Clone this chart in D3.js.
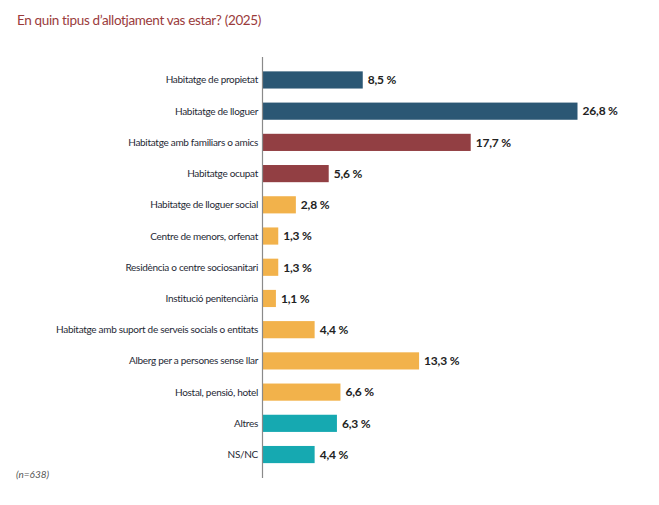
<!DOCTYPE html>
<html>
<head>
<meta charset="utf-8">
<script src="https://d3js.org/d3.v7.min.js"></script>
<style>
  body { margin: 0; background: #fff; font-family: Lato, "Open Sans", sans-serif; }
  .title { font-size: 13.5px; fill: #9a3b3b; letter-spacing: -0.35px; }
  .cat { font-size: 10px; fill: #1f2a36; letter-spacing: -0.3px; }
  .val { font-size: 12px; font-weight: bold; fill: #222; letter-spacing: -0.2px; }
  .note { font-size: 10px; font-style: italic; fill: #555; }
</style>
</head>
<body>
<script>
// data
var categories = [
  "Habitatge de propietat",
  "Habitatge de lloguer",
  "Habitatge amb familiars o amics",
  "Habitatge ocupat",
  "Habitatge de lloguer social",
  "Centre de menors, orfenat",
  "Residència o centre sociosanitari",
  "Institució penitenciària",
  "Habitatge amb suport de serveis socials o entitats",
  "Alberg per a persones sense llar",
  "Hostal, pensió, hotel",
  "Altres",
  "NS/NC"
];
var values = [8.5, 26.8, 17.7, 5.6, 2.8, 1.3, 1.3, 1.1, 4.4, 13.3, 6.6, 6.3, 4.4];
var groups = ["own", "own", "fam", "fam", "inst", "inst", "inst", "inst", "inst", "inst", "inst", "other", "other"];
var groupColors = { own: "#2b5774", fam: "#923f43", inst: "#f2b24b", other: "#16a9b1" };

var width = 659, height = 505;
var svg = d3.select("body").append("svg")
  .attr("width", width)
  .attr("height", height);

svg.append("text").attr("class", "title")
  .attr("x", 17).attr("y", 25)
  .text("En quin tipus d’allotjament vas estar? (2025)");

var x0 = 263;
var x = d3.scaleLinear().domain([0, 26.8]).range([x0, 577.5]);
var y = d3.scaleBand().domain(categories).range([64.5, 470]).paddingInner(0.45).paddingOuter(0.22);

var fmt = function (v) { return d3.format(".1f")(v).replace(".", ",") + " %"; };

// bars
svg.selectAll("rect.bar").data(categories).enter().append("rect")
  .attr("class", "bar")
  .attr("x", x0)
  .attr("y", function (d) { return y(d); })
  .attr("width", function (d, i) { return x(values[i]) - x0; })
  .attr("height", y.bandwidth())
  .attr("fill", function (d, i) { return groupColors[groups[i]]; });

// category labels
svg.selectAll("text.cat").data(categories).enter().append("text")
  .attr("class", "cat")
  .attr("x", x0 - 5)
  .attr("y", function (d) { return y(d) + y.bandwidth() / 2; })
  .attr("dy", "0.35em")
  .attr("text-anchor", "end")
  .text(function (d) { return d; });

// value labels
svg.selectAll("text.val").data(categories).enter().append("text")
  .attr("class", "val")
  .attr("x", function (d, i) { return x(values[i]) + 5; })
  .attr("y", function (d) { return y(d) + y.bandwidth() / 2; })
  .attr("dy", "0.36em")
  .text(function (d, i) { return fmt(values[i]); });

// axis line
svg.append("line")
  .attr("x1", x0 - 0.5).attr("x2", x0 - 0.5)
  .attr("y1", 57).attr("y2", 478)
  .attr("stroke", "#8a8a8a").attr("stroke-width", 1.2);

svg.append("text").attr("class", "note")
  .attr("x", 16).attr("y", 478)
  .text("(n=638)");
</script>
</body>
</html>
